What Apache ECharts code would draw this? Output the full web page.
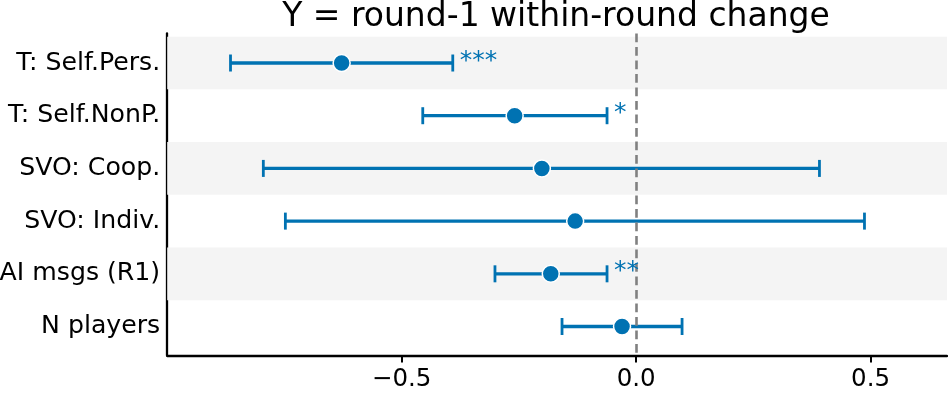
<!DOCTYPE html>
<html>
<head>
<meta charset="utf-8">
<script src="https://cdn.jsdelivr.net/npm/echarts@6/dist/echarts.min.js"></script>
<style>html,body{margin:0;padding:0;background:#fff}#c{width:948px;height:404px}</style>
</head>
<body>
<div id="c"></div>
<script>
const categories = ['T: Self.Pers.', 'T: Self.NonP.', 'SVO: Coop.', 'SVO: Indiv.', 'AI msgs (R1)', 'N players'];
const estimates = [-0.628, -0.259, -0.201, -0.130, -0.182, -0.030];
const ciLow = [-0.865, -0.455, -0.795, -0.748, -0.301, -0.158];
const ciHigh = [-0.391, -0.062, 0.391, 0.487, -0.062, 0.098];
const stars = ['***', '*', '', '', '**', ''];
const xTicks = [-0.5, 0, 0.5];
const titleText = 'Y = round-1 within-round change';

const BLUE = '#0072B2';
const FONT = 'DejaVu Sans';
const chart = echarts.init(document.getElementById('c'), null, {renderer: 'canvas'});

const bandData = categories.map((c, i) => [i]).filter(d => d[0] % 2 === 0);
const errData = categories.map((c, i) => [ciLow[i], ciHigh[i], i]);
const ptData = categories.map((c, i) => [estimates[i], i]);
const starData = categories.map((c, i) => [ciHigh[i], i, stars[i]]).filter(d => d[2]);

const fmtTick = v => (v < 0 ? '\u2212' : '') + Math.abs(v).toFixed(1);

chart.setOption({
  animation: false,
  backgroundColor: '#fff',
  graphic: [{
    type: 'text', x: 556, y: 17,
    style: {text: titleText, font: '33px "DejaVu Sans"', fill: '#000', textAlign: 'center', textVerticalAlign: 'middle'}
  }],
  grid: {left: 167.2, right: 1, top: 33.5, bottom: 48.5, containLabel: false, outerBoundsMode: 'none'},
  xAxis: {
    type: 'value', min: -1.0, max: 0.663,
    splitLine: {show: false},
    axisLine: {show: true, onZero: false, lineStyle: {color: '#000', width: 2.3}},
    axisTick: {show: true, length: 7, customValues: xTicks, lineStyle: {color: '#000', width: 2}},
    axisLabel: {customValues: xTicks, formatter: fmtTick, fontFamily: FONT, fontSize: 24.5, color: '#000', margin: 12}
  },
  yAxis: {
    type: 'value', min: -0.56, max: 5.55, inverse: true,
    splitLine: {show: false},
    axisLine: {show: true, onZero: false, lineStyle: {color: '#000', width: 2.3}},
    axisTick: {show: false},
    axisLabel: {customValues: [0, 1, 2, 3, 4, 5], formatter: v => categories[Math.round(v)], fontFamily: FONT, fontSize: 25.2, color: '#000', margin: 7}
  },
  series: [
    {
      type: 'custom', z: 1, silent: true,
      data: bandData,
      encode: {y: 0},
      renderItem: (params, api) => {
        const i = api.value(0);
        const cs = params.coordSys;
        const y0 = api.coord([0, i - 0.5])[1];
        const y1 = api.coord([0, i + 0.5])[1];
        const top = Math.max(Math.min(y0, y1), cs.y);
        const bot = Math.min(Math.max(y0, y1), cs.y + cs.height);
        return {type: 'rect', shape: {x: cs.x, y: top, width: cs.width, height: bot - top}, style: {fill: '#f4f4f4'}};
      }
    },
    {
      type: 'custom', z: 3, silent: true,
      data: errData,
      encode: {x: [0, 1], y: 2},
      renderItem: (params, api) => {
        const a = api.coord([api.value(0), api.value(2)]);
        const b = api.coord([api.value(1), api.value(2)]);
        const h = 8.5;
        const st = {stroke: BLUE, lineWidth: 3.3};
        return {type: 'group', children: [
          {type: 'line', shape: {x1: a[0], y1: a[1], x2: b[0], y2: b[1]}, style: st},
          {type: 'line', shape: {x1: a[0], y1: a[1] - h, x2: a[0], y2: a[1] + h}, style: {stroke: BLUE, lineWidth: 2.8}},
          {type: 'line', shape: {x1: b[0], y1: b[1] - h, x2: b[0], y2: b[1] + h}, style: {stroke: BLUE, lineWidth: 2.8}}
        ]};
      }
    },
    {
      type: 'scatter', z: 4, silent: true,
      data: ptData,
      symbol: 'circle', symbolSize: 17,
      itemStyle: {color: BLUE, borderColor: '#fff', borderWidth: 1.5, opacity: 1}
    },
    {
      type: 'custom', z: 5, silent: true,
      data: starData,
      encode: {x: 0, y: 1},
      renderItem: (params, api) => {
        const p = api.coord([api.value(0), api.value(1)]);
        return {type: 'text', x: p[0] + 7, y: p[1] - 2, style: {text: stars[api.value(1)], font: '25px "DejaVu Sans"', fill: BLUE, textAlign: 'left', textVerticalAlign: 'middle'}};
      },
      markLine: {
        silent: true, symbol: 'none', label: {show: false},
        lineStyle: {color: '#808080', width: 2.6, type: [8.7, 4.8]},
        data: [{xAxis: 0}]
      }
    }
  ]
});
</script>
</body>
</html>
